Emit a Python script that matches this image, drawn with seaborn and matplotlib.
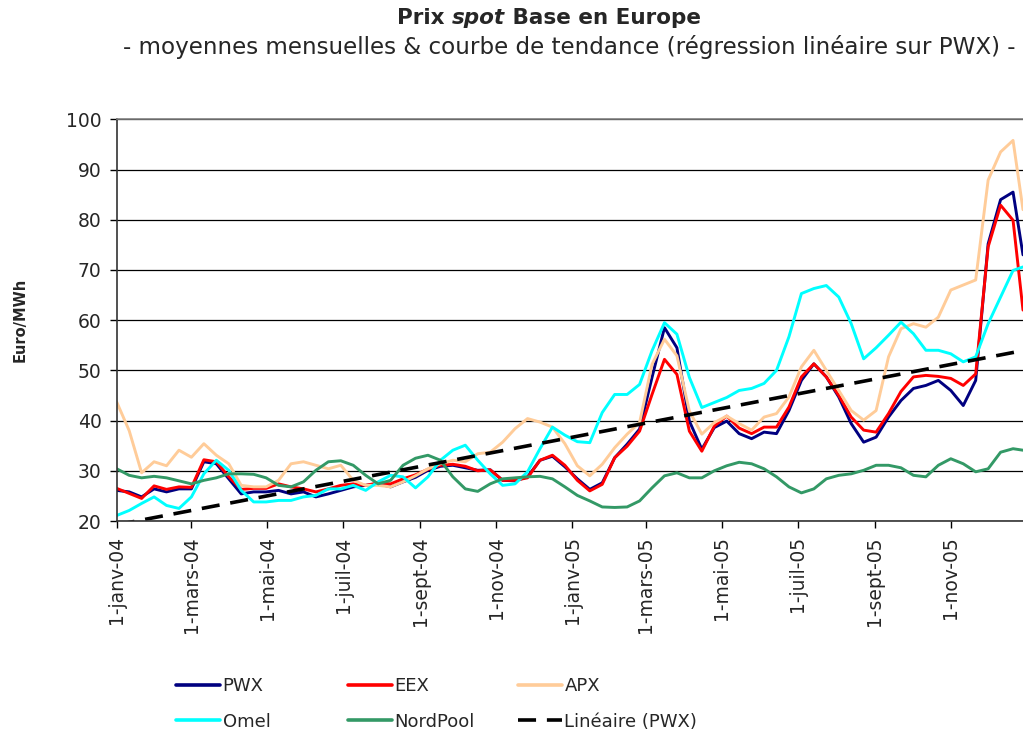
import numpy as np
import pandas as pd
import matplotlib
matplotlib.use("Agg")
import matplotlib.pyplot as plt
from matplotlib.lines import Line2D
import seaborn as sns

# -----------------------------
# Data (one value every 10 days + last day)
# -----------------------------

START = pd.Timestamp("2004-01-01")
END = pd.Timestamp("2005-12-29")
dates = list(pd.date_range(START, periods=73, freq="10D")) + [END]

pwx = [26.1, 25.8, 24.8, 26.4, 25.8, 26.4, 26.4, 31.8, 31.4, 28.4, 25.4, 25.8,
       25.8, 26.1, 25.4, 25.8, 24.8, 25.4, 26.1, 26.8, 27.1, 27.4, 26.8, 27.8,
       28.7, 30.1, 30.9, 31.1, 30.6, 30.1, 30.2, 28.1, 28.0, 28.8, 32.1, 32.9,
       30.8, 28.4, 26.3, 27.6, 32.6, 35.3, 38.3, 48.6, 58.5, 54.5, 39.9, 34.3,
       38.6, 39.9, 37.4, 36.4, 37.7, 37.4, 42.0, 48.0, 51.3, 48.7, 44.7, 39.4,
       35.7, 36.7, 40.7, 44.0, 46.4, 47.0, 48.0, 46.0, 43.0, 48.0, 75.2, 84.0,
       85.5, 73.0]

eex = [26.5, 25.5, 24.5, 27.0, 26.3, 26.8, 26.7, 32.2, 31.8, 28.8, 26.3, 26.5,
       26.5, 27.4, 26.8, 26.4, 25.8, 26.4, 27.1, 27.4, 27.1, 27.6, 27.4, 28.4,
       29.2, 30.3, 31.1, 31.3, 30.9, 30.0, 30.2, 28.1, 28.1, 28.6, 32.1, 33.1,
       31.1, 28.1, 26.0, 27.3, 32.6, 34.9, 37.9, 45.2, 52.2, 49.2, 37.9, 33.9,
       38.9, 40.9, 38.5, 37.4, 38.7, 38.7, 42.7, 48.7, 51.3, 48.7, 45.0, 40.7,
       38.1, 37.7, 41.4, 45.8, 48.7, 49.0, 48.8, 48.4, 47.0, 49.3, 74.6, 82.9,
       79.9, 62.0]

apx = [43.7, 38.0, 29.6, 31.8, 31.0, 34.1, 32.7, 35.4, 33.1, 31.4, 27.1, 26.8,
       26.8, 28.1, 31.4, 31.8, 31.1, 30.4, 31.1, 28.1, 27.1, 27.1, 26.8, 27.8,
       29.0, 30.4, 31.4, 32.1, 31.8, 33.4, 33.7, 35.7, 38.4, 40.4, 39.7, 38.7,
       35.4, 31.0, 29.0, 31.3, 34.6, 37.3, 39.6, 51.2, 56.2, 52.9, 41.9, 37.3,
       39.6, 40.9, 39.4, 38.1, 40.7, 41.4, 44.7, 50.7, 54.0, 50.0, 46.0, 42.0,
       40.1, 42.0, 52.7, 58.3, 59.3, 58.6, 60.6, 66.0, 67.0, 68.0, 87.9, 93.5,
       95.8, 82.0]

omel = [21.1, 22.1, 23.5, 24.8, 23.1, 22.5, 24.8, 29.4, 32.1, 30.1, 26.1, 23.8,
        23.8, 24.1, 24.1, 24.8, 25.1, 26.4, 26.4, 27.1, 26.1, 27.8, 29.1, 28.8,
        26.6, 28.8, 32.1, 34.1, 35.1, 32.1, 29.4, 27.1, 27.4, 29.8, 34.4, 38.7,
        37.1, 35.8, 35.6, 41.6, 45.2, 45.2, 47.2, 53.9, 59.5, 57.2, 48.6, 42.6,
        43.6, 44.6, 46.0, 46.4, 47.4, 50.0, 56.7, 65.3, 66.3, 66.9, 64.6, 59.3,
        52.3, 54.5, 57.0, 59.6, 57.3, 54.0, 54.0, 53.3, 51.7, 52.7, 59.3, 64.6,
        69.9, 70.6]

nordpool = [30.4, 29.1, 28.6, 28.9, 28.6, 28.0, 27.4, 28.1, 28.6, 29.4, 29.4, 29.3,
            28.6, 27.1, 26.8, 27.8, 30.1, 31.8, 32.0, 31.1, 29.1, 27.4, 28.1, 31.1,
            32.5, 33.1, 32.1, 28.8, 26.4, 25.9, 27.4, 28.4, 28.6, 28.8, 28.9, 28.4,
            26.8, 25.1, 24.0, 22.8, 22.7, 22.8, 24.0, 26.6, 29.0, 29.6, 28.6, 28.6,
            30.0, 31.0, 31.7, 31.4, 30.4, 28.8, 26.8, 25.6, 26.4, 28.4, 29.1, 29.4,
            30.1, 31.1, 31.1, 30.6, 29.1, 28.8, 31.1, 32.4, 31.4, 29.8, 30.4, 33.7,
            34.4, 34.1]

series_names = ["PWX", "EEX", "APX", "Omel", "NordPool"]
colors = {
    "PWX": "#000080",
    "EEX": "#FF0000",
    "APX": "#FFCC99",
    "Omel": "#00FFFF",
    "NordPool": "#339966",
}

month_fr = {1: "janv", 3: "mars", 5: "mai", 7: "juil", 9: "sept", 11: "nov"}
tick_dates = pd.date_range("2004-01-01", "2005-11-01", freq="2MS")
tick_labels = [f"1-{month_fr[d.month]}-{d:%y}" for d in tick_dates]

# -----------------------------
# Figure
# -----------------------------

sns.set_style("white")
plt.rcParams["font.family"] = ["DejaVu Sans"]

df = pd.DataFrame({"date": dates, "PWX": pwx, "EEX": eex, "APX": apx,
                   "Omel": omel, "NordPool": nordpool})
long_df = df.melt(id_vars="date", var_name="serie", value_name="prix")

fig = plt.figure(figsize=(10.23, 7.36), dpi=100)
ax = fig.add_axes([0.1141, 0.2921, 0.8859, 0.5458])

sns.lineplot(data=long_df, x="date", y="prix", hue="serie", hue_order=series_names,
             palette=colors, linewidth=2.1, estimator=None, legend=False, ax=ax)

# linear trend on PWX (like the spreadsheet's trendline)
days = np.array([(d - START).days for d in dates], dtype=float)
slope, intercept = np.polyfit(days, pwx, 1)
trend = intercept + slope * days[[0, -1]]
ax.plot([dates[0], dates[-1]], trend, color="black", linewidth=2.6,
        linestyle=(0, (5, 3)))

ax.set_xlim(START, END)
ax.set_ylim(20, 100)
ax.set_yticks(range(20, 101, 10))
ax.set_xticks(tick_dates)
ax.set_xticklabels(tick_labels, rotation=90, fontsize=13.5)
ax.tick_params(axis="y", labelsize=13.5)
ax.tick_params(axis="both", direction="out", length=5, width=1, color="black",
               left=True, bottom=True, pad=6)
ax.set_xlabel("")
ax.set_ylabel("")

ax.yaxis.grid(True, color="black", linewidth=0.9)
ax.set_axisbelow(True)
for side in ["left", "bottom"]:
    ax.spines[side].set_color("#333333")
    ax.spines[side].set_linewidth(1.2)
ax.spines["top"].set_color("#808080")
ax.spines["top"].set_linewidth(1.2)
ax.spines["right"].set_visible(False)

# Title: "Prix spot Base en Europe" with italic "spot"
t1 = fig.text(0.388, 0.975, "Prix ", fontsize=15.5, fontweight="bold",
              va="center", ha="left")
t2 = ax.annotate("spot", xy=(1, 0), xycoords=t1, va="bottom", ha="left",
                 fontsize=15.5, fontweight="bold", fontstyle="italic")
ax.annotate(" Base en Europe", xy=(1, 0), xycoords=t2, va="bottom", ha="left",
            fontsize=15.5, fontweight="bold")
fig.text(0.556, 0.936,
         "- moyennes mensuelles & courbe de tendance (régression linéaire sur PWX) -",
         fontsize=16.6, ha="center", va="center")

fig.text(0.0196, 0.565, "Euro/MWh", rotation=90, fontsize=10.5,
         fontweight="bold", ha="center", va="center")

# Legend: three columns of two entries
def handle(color, dashed=False):
    if dashed:
        return Line2D([], [], color=color, linewidth=2.6, linestyle=(0, (5, 3)))
    return Line2D([], [], color=color, linewidth=2.6)

columns = [
    (0.172, [("PWX", handle(colors["PWX"])), ("Omel", handle(colors["Omel"]))]),
    (0.340, [("EEX", handle(colors["EEX"])), ("NordPool", handle(colors["NordPool"]))]),
    (0.506, [("APX", handle(colors["APX"])), ("Linéaire (PWX)", handle("black", True))]),
]
for x, entries in columns:
    fig.legend([h for _, h in entries], [lab for lab, _ in entries],
               loc="center left", bbox_to_anchor=(x, 0.0435), frameon=False,
               fontsize=13, handlelength=2.44, handletextpad=0.15,
               borderpad=0, borderaxespad=0, labelspacing=0.95)

fig.savefig("out.png", dpi=100)
